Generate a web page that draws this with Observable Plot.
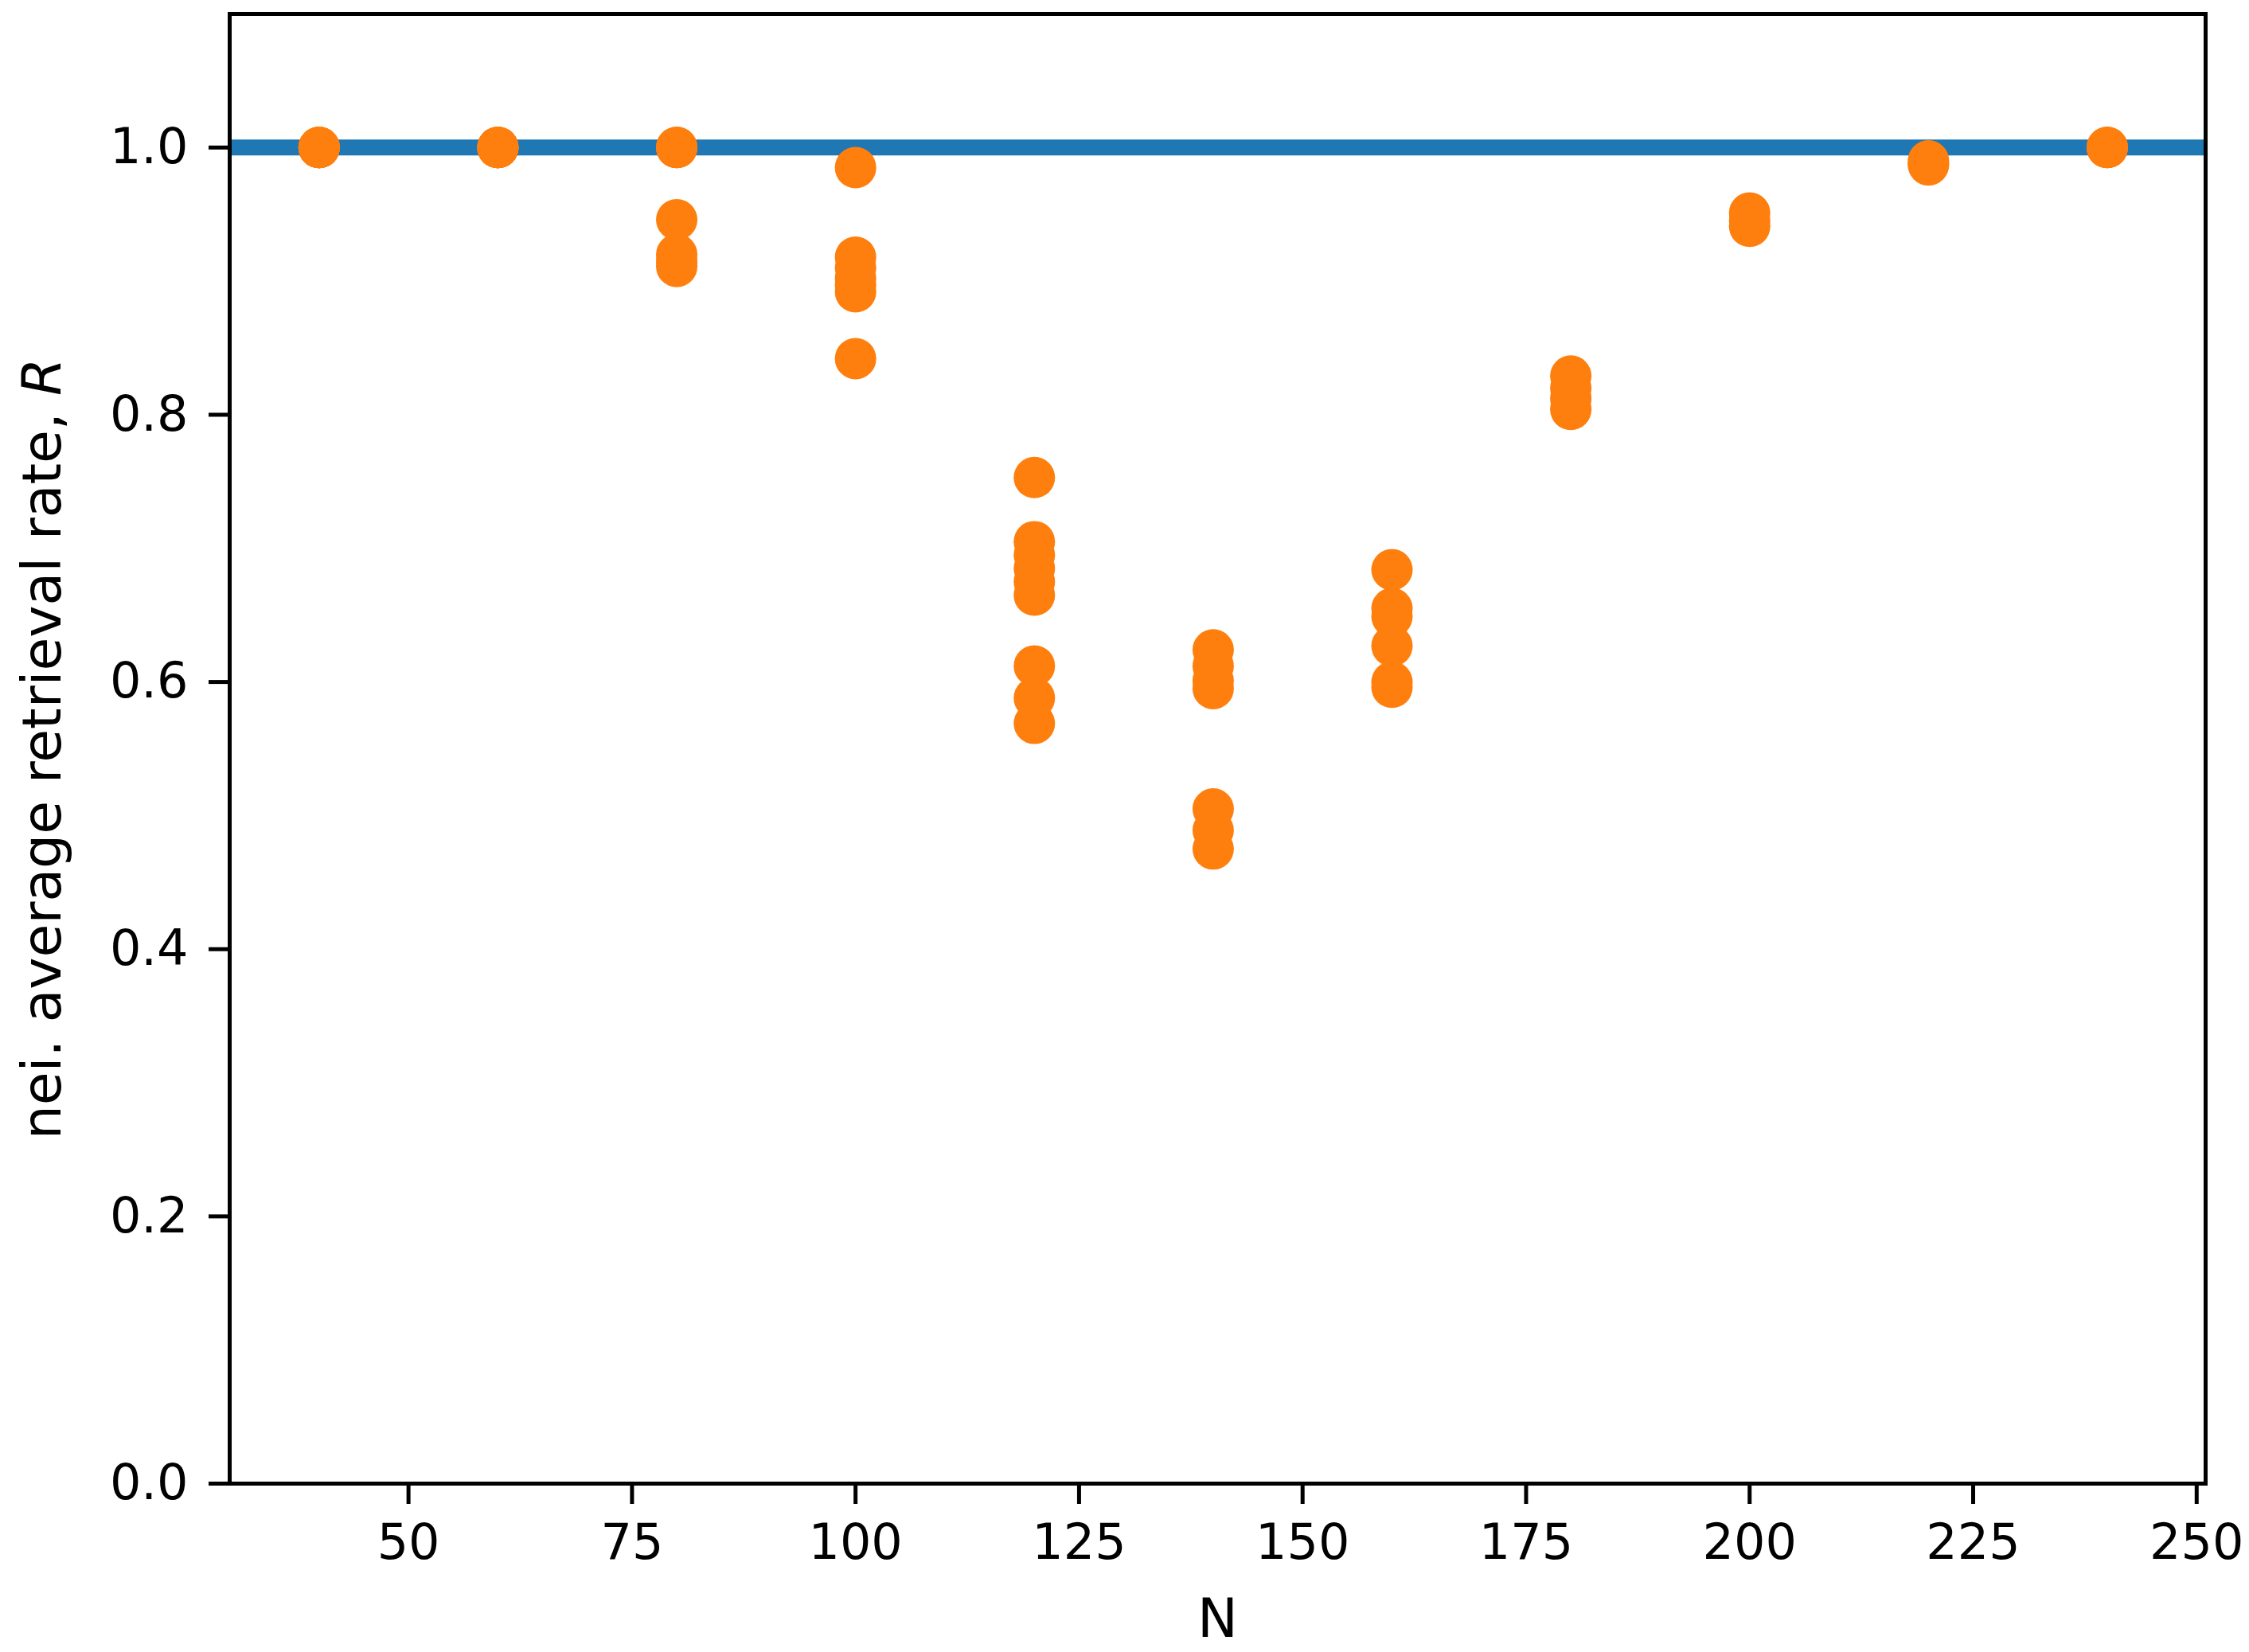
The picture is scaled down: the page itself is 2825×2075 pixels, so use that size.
<!DOCTYPE html>
<html>
<head>
<meta charset="utf-8">
<script src="https://cdn.jsdelivr.net/npm/d3@7"></script>
<script src="https://cdn.jsdelivr.net/npm/@observablehq/plot@0.6"></script>
<style>
  body { margin: 0; background: white; }
</style>
</head>
<body>
<div id="chart"></div>
<script>
// network size N and the retrieval rate of each run
const nValues = [40, 60, 80, 100, 120, 140, 160, 180, 200, 220, 240];
const rates = [
  [1, 1, 1, 1, 1, 1],
  [1, 1, 1, 1, 1, 1],
  [1, 1, 1, 0.946, 0.92, 0.915, 0.911],
  [0.985, 0.918, 0.91, 0.902, 0.897, 0.892, 0.842],
  [0.753, 0.705, 0.695, 0.685, 0.675, 0.665, 0.612, 0.588, 0.569],
  [0.624, 0.612, 0.601, 0.595, 0.505, 0.489, 0.475],
  [0.684, 0.655, 0.649, 0.627, 0.6, 0.596],
  [0.829, 0.82, 0.812, 0.804],
  [0.951, 0.945, 0.941],
  [0.99, 0.988, 0.987],
  [1, 1, 1]
];
const reference = [1.0];
const xTicks = [50, 75, 100, 125, 150, 175, 200, 225, 250];
const yTicks = [0, 0.2, 0.4, 0.6, 0.8, 1.0];
const xLabel = "N";
const yLabel = "nei. average retrieval rate, ";
const yLabelItalic = "R";

const points = nValues.flatMap((n, i) => rates[i].map(r => ({n, r})));

let chart = Plot.plot({
  width: 2825,
  height: 2075,
  marginLeft: 288,
  marginRight: 55,
  marginTop: 17,
  marginBottom: 212,
  x: { domain: [30, 251] },
  y: { domain: [0, 1.1] },
  style: {
    fontFamily: "DejaVu Sans",
    fontSize: "62px",
    color: "black",
    background: "white"
  },
  marks: [
    Plot.ruleY(reference, { stroke: "#1f77b4", strokeWidth: 20 }),
    Plot.dot(points, { x: "n", y: "r", r: 26, fill: "#ff7f0e", stroke: null }),
    Plot.axisX({ ticks: xTicks, tickSize: 26, tickPadding: 24, strokeWidth: 5, label: null }),
    Plot.axisY({ ticks: yTicks, tickSize: 26, tickPadding: 26, strokeWidth: 5, tickFormat: d3.format(".1f"), label: null }),
    Plot.text([xLabel], { text: d => d, frameAnchor: "bottom", dy: 171, lineAnchor: "middle", fontSize: 68 }),
    Plot.text([yLabel + yLabelItalic], { text: d => d, frameAnchor: "left", textAnchor: "middle", rotate: -90, dx: -234, lineAnchor: "middle", fontSize: 68 }),
    Plot.frame({ stroke: "black", strokeWidth: 5 })
  ]
});

// italic R at the end of the y label
d3.select(chart).selectAll("text")
  .filter(function() { return this.textContent === yLabel + yLabelItalic; })
  .each(function() {
    const t = d3.select(this);
    t.text(null);
    t.append("tspan").text(yLabel);
    t.append("tspan").attr("font-style", "italic").text(yLabelItalic);
  });

d3.select('#chart').append(() => chart);
</script>
</body>
</html>
